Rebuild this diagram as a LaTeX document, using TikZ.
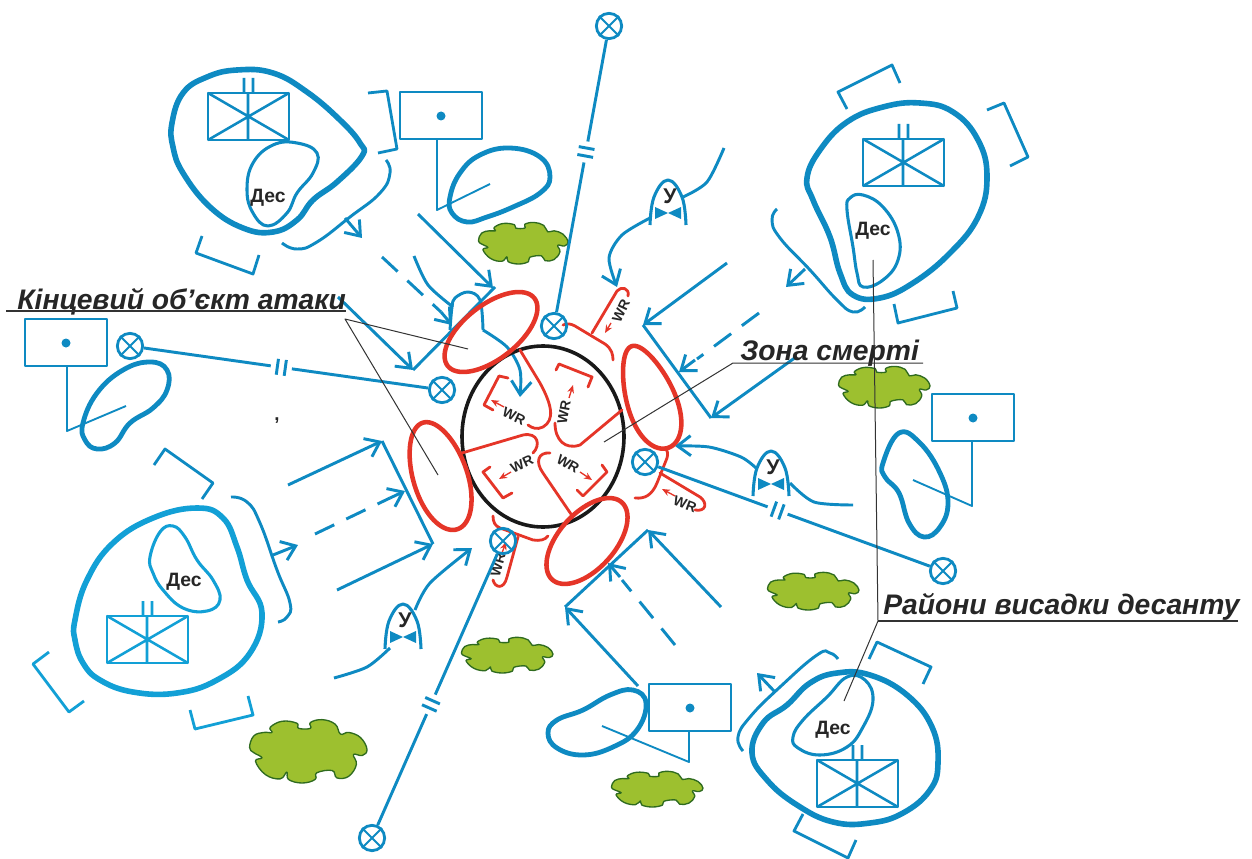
\documentclass[tikz,border=0pt]{standalone}
\usepackage{fontspec}
\setmainfont{Liberation Sans}
\usetikzlibrary{arrows.meta,calc,shapes.geometric}
\definecolor{bl}{HTML}{0E8AC2}
\definecolor{lb}{HTML}{12A0D6}
\definecolor{rd}{HTML}{E53528}
\definecolor{gr}{HTML}{9DC02F}
\definecolor{gd}{HTML}{2F6B1F}
\definecolor{lead}{HTML}{333333}
\tikzset{
 sm/.style={smooth cycle,tension=.72},
 thin blue/.style={draw=bl,line width=2.2pt,line cap=butt},
 thick blob/.style={draw=bl,line width=4.2pt},
 mid blob/.style={draw=bl,line width=3.6pt},
 inner blob/.style={draw=bl,line width=2.3pt},
 brk line/.style={draw=bl,line width=2.1pt},
 arr/.style={-{Straight Barb[length=10pt,width=15pt]}},
 red blob/.style={draw=rd,line width=3.4pt},
 red line/.style={draw=rd,line width=2.1pt,line cap=round},
 red arr/.style={draw=rd,line width=1pt,-{Stealth[length=6pt,width=5pt]}},
 leader/.style={draw=lead,line width=.75pt},
 xcirc/.style={circle,draw=bl,line width=2.1pt,minimum size=19pt,inner sep=0pt},
 wr/.style={font=\fontsize{10.5}{11}\selectfont\bfseries,text=black!85,inner sep=0pt},
 des/.style={font=\fontsize{14.5}{15}\selectfont\bfseries,text=black!85,inner sep=0pt},
 title/.style={font=\fontsize{21.2}{23}\selectfont\bfseries\itshape,text=black!85,inner sep=0pt,anchor=base west},
}
\newcommand\xnode[3]{\node[xcirc] (#1) at (#2,#3) {};
 \draw[draw=bl,line width=1.5pt] (#1.45) -- (#1.225) (#1.135) -- (#1.315);}
\newcommand\brkline[3]{%
 \coordinate (mm) at ($(#1)!#3!(#2)$);
 \coordinate (ga) at ($(mm)!8pt!(#1)$);
 \coordinate (gb) at ($(mm)!8pt!(#2)$);
 \coordinate (ta) at ($(mm)!3pt!(#1)$);
 \coordinate (tb) at ($(mm)!3pt!(#2)$);
 \draw[thin blue] (#1) -- (ga);
 \draw[thin blue] (gb) -- (#2);
 \draw[thin blue] ($(ta)!6pt!90:(#1)$) -- ($(ta)!6pt!-90:(#1)$);
 \draw[thin blue] ($(tb)!6pt!90:(#1)$) -- ($(tb)!6pt!-90:(#1)$);}
\newcommand\tankbox[3]{\begin{scope}[shift={(#1,#2)},draw=#3]
 \draw[line width=2.2pt] (0,0) rectangle (81,47);
 \draw[line width=1.9pt] (0,0) -- (81,47) (0,47) -- (81,0) (40,0) -- (40,47) (36,-15) -- (36,0) (45,-15) -- (45,0);
 \end{scope}}
\newcommand\rectdot[3]{\begin{scope}[shift={(#1,#2)}]
 \draw[draw=#3,line width=2.2pt] (0,0) rectangle (82,47);
 \fill[#3] (41,24) circle (4.5);
 \end{scope}}
\newcommand\archsym[2]{\begin{scope}[shift={(#1,#2)}]
 \draw[draw=bl,line width=2.3pt] plot[smooth,tension=.7] coordinates {(-18,12) (-14,-16) (0,-33) (14,-16) (18,12)};
 \fill[bl] (-13,-6) -- (0,0) -- (-13,6) -- cycle (13,-6) -- (0,0) -- (13,6) -- cycle;
 \node[font=\fontsize{16}{17}\selectfont\bfseries,text=black!85,inner sep=0pt] (y#1) at (2,-17) {У};
 \end{scope}}
\newcommand\cloud[4]{\begin{scope}[shift={(#1,#2)},xscale=#3,yscale=#4]
 \draw[fill=gr,draw=gd,line width=1pt] plot[smooth cycle,tension=.7] coordinates {(-.99,-.11) (-.92,-.47) (-.75,-.58) (-.61,-.58) (-.64,-.74) (-.44,-.93) (-.19,-.87) (-.16,-.71) (.04,-.71) (.04,-.89) (.24,-.98) (.46,-.84) (.55,-.53) (.69,-.58) (.89,-.42) (1,-.05) (.92,.14) (.77,.11) (.82,.42) (.69,.79) (.49,.84) (.41,.61) (.15,.68) (.12,.89) (-.10,1) (-.33,.89) (-.36,.66) (-.47,.87) (-.72,.74) (-.89,.32) (-.78,.21) (-.92,.05)};
 \end{scope}}
% tilted egg: centre x, y; angle; half length; half width; egg factor
\newcommand\redegg[6]{\draw[red blob] plot[domain=0:355,samples=72,smooth cycle]
 ({#1+cos(#3)*#4*cos(\x)-sin(#3)*#5*sin(\x)*(1+#6*cos(\x))},{#2+sin(#3)*#4*cos(\x)+cos(#3)*#5*sin(\x)*(1+#6*cos(\x))});}
\begin{document}
\begin{tikzpicture}[x=0.75pt,y=-0.75pt,line join=round]
\useasboundingbox (0,0) rectangle (1252,859);
\fill[white] (0,0) rectangle (1252,859);
% clouds
\cloud{523}{243}{45}{21}
\cloud{884}{387}{46}{21}
\cloud{813}{591}{46}{19}
\cloud{507}{655}{46}{18}
\cloud{308}{751}{59}{32}
\cloud{657}{789}{46}{18}
% top-left group
\draw[thick blob] plot[sm] coordinates {(172,123) (183,93) (207,77) (237,70) (273,73) (307,92) (340,120) (360,143) (362,156) (337,182) (313,200) (297,220) (273,232) (243,228) (210,207) (183,173) (173,147)};
\draw[inner blob] plot[sm] coordinates {(247,190) (253,163) (273,145) (297,143) (317,153) (313,173) (297,193) (287,213) (268,226) (253,213)};
\tankbox{208}{93}{bl}
\node[des] (des1) at (268,198) {Дес};
\draw[brk line] (368,93) -- (387,91) -- (397,149) -- (378,153);
\draw[brk line] (202,236) -- (196,253) -- (253,274) -- (259,255);
\rectdot{400}{92}{bl}
\draw[draw=bl,line width=1.4pt] (437,139) -- (437,210) -- (490,184);
\draw[mid blob] plot[sm] coordinates {(450,197) (460,173) (480,155) (510,148) (540,157) (550,177) (540,193) (513,207) (487,217) (467,222) (452,213)};
\draw[thin blue] plot[smooth,tension=.8] coordinates {(386,160) (390,173) (380,193) (350,217) (317,242) (297,249) (282,243)};
\draw[thin blue,arr] (345,218) -- (362,238);
\draw[thin blue,dash pattern=on 16pt off 10pt] (382,257) -- (441,312);
\draw[thin blue,arr] (441,312) -- (452,325);
\draw[thin blue,arr] (418,214) -- (493,288);
\draw[thin blue] (495,287) -- (413,370);
\draw[thin blue,arr] (338,297) -- (413,370);
\draw[thin blue] plot[smooth] coordinates {(414,256) (428,285) (453,307)};
\draw[thin blue] plot[smooth,tension=.6] coordinates {(450,330) (452,307) (455,298) (468,292) (480,300) (483,330)};
\draw[thin blue,arr] plot[smooth] coordinates {(483,330) (507,347) (520,370) (520,397)};
% left group
\rectdot{25}{319}{bl}
\draw[draw=bl,line width=1.4pt] (67,367) -- (67,431) -- (126,406);
\draw[mid blob] plot[sm] coordinates {(83,423) (97,393) (123,370) (150,362) (167,370) (167,390) (153,408) (130,423) (115,443) (97,449) (85,440)};
\node[font=\fontsize{14}{15}\selectfont\bfseries,text=black!85,inner sep=0pt] (comma) at (277,421) {,};
% lower-left group
\draw[thick blob,draw=lb] plot[sm] coordinates {(75,620) (87,580) (113,543) (153,518) (197,508) (223,518) (237,547) (247,580) (262,613) (250,653) (217,680) (177,693) (133,692) (100,680) (83,663) (75,640)};
\draw[inner blob,draw=lb] plot[sm] coordinates {(150,557) (160,532) (173,526) (185,537) (197,560) (213,580) (220,600) (207,611) (183,608) (163,590) (153,573)};
\tankbox{107}{616}{lb}
\node[des] (des2) at (184,582) {Дес};
\draw[brk line] (154,465) -- (165,449) -- (213,483) -- (202,499);
\draw[brk line,draw=lb] (49,652) -- (33,664) -- (69,712) -- (84,701);
\draw[brk line,draw=lb] (190,710) -- (195,729) -- (253,715) -- (248,696);
\draw[thin blue] plot[smooth,tension=.8] coordinates {(231,497) (247,502) (260,523) (277,570) (290,603) (287,617) (278,622)};
\draw[thin blue,arr] (273,555) -- (298,545);
\draw[thin blue,dash pattern=on 16pt off 10pt] (315,534) -- (390,498);
\draw[thin blue,arr] (390,498) -- (405,491);
\draw[thin blue,arr] (288,485) -- (382,441);
\draw[thin blue,arr] (337,590) -- (433,544);
\draw[thin blue] (382,441) -- (433,544);
\draw[thin blue] plot[smooth] coordinates {(334,678) (367,667) (390,648)};
\draw[thin blue,arr] plot[smooth] coordinates {(415,610) (430,583) (472,548)};
\archsym{403}{637}
% top-right group
\draw[thick blob] plot[sm] coordinates {(807,178) (820,150) (847,122) (883,107) (920,103) (953,112) (978,140) (987,177) (978,217) (950,253) (913,283) (880,298) (853,295) (840,273) (830,237) (813,200)};
\draw[inner blob] plot[sm] coordinates {(847,210) (850,198) (863,195) (883,207) (898,233) (898,260) (883,280) (863,287) (857,273) (853,247)};
\tankbox{863}{139}{bl}
\node[des] (des3) at (873,231) {Дес};
\draw[brk line] (847,109) -- (838,92) -- (892,65) -- (900,83);
\draw[brk line] (987,110) -- (1004,103) -- (1028,157) -- (1010,166);
\draw[brk line] (894,304) -- (898,323) -- (957,308) -- (953,291);
\draw[thin blue] plot[smooth,tension=.8] coordinates {(777,209) (772,220) (780,238) (810,270) (837,300) (853,312) (865,307)};
\draw[thin blue,arr] (805,269) -- (786,287);
\draw[thin blue,arr] (727,263) -- (643,325);
\draw[thin blue] (643,325) -- (711,418);
\draw[thin blue,dash pattern=on 16pt off 10pt] (759,313) -- (697,359);
\draw[thin blue,arr] (695,360) -- (679,372);
\draw[thin blue,arr] (796,357) -- (711,418);
\archsym{668}{213}
\draw[thin blue] plot[smooth] coordinates {(683,197) (707,182) (724,148)};
\draw[thin blue,arr] plot[smooth] coordinates {(650,218) (622,235) (609,258) (617,287)};
% right group
\rectdot{932}{394}{bl}
\draw[draw=bl,line width=1.4pt] (972,442) -- (972,506) -- (913,480);
\draw[mid blob] plot[sm] coordinates {(883,463) (899,433) (920,443) (940,473) (948,503) (940,527) (924,537) (909,523) (899,493) (885,477)};
\archsym{771}{484}
\draw[thin blue,arr] plot[smooth] coordinates {(756,468) (741,457) (709,447) (675,446)};
\draw[thin blue] plot[smooth] coordinates {(790,483) (814,502) (853,505)};
% bottom-right group
\rectdot{649}{684}{bl}
\draw[draw=bl,line width=1.4pt] (689,732) -- (689,762) -- (602,726);
\draw[mid blob] plot[sm] coordinates {(548,733) (557,720) (583,710) (610,695) (633,690) (646,703) (637,730) (613,747) (583,755) (557,748)};
\draw[thick blob] plot[sm] coordinates {(752,753) (763,723) (787,705) (810,683) (837,673) (870,675) (907,695) (932,727) (938,763) (930,790) (903,813) (870,823) (833,822) (797,805) (767,780)};
\draw[inner blob] plot[sm] coordinates {(793,737) (803,720) (827,697) (847,677) (865,680) (873,700) (863,727) (847,747) (820,755) (798,748)};
\tankbox{817}{760}{bl}
\node[des] (des4) at (833,730) {Дес};
\draw[thin blue] plot[smooth,tension=.8] coordinates {(743,751) (738,737) (750,717) (780,687) (817,655) (830,653) (838,659)};
\draw[thin blue,arr] (775,692) -- (757,673);
\draw[brk line] (869,659) -- (877,642) -- (931,667) -- (923,684);
\draw[brk line] (803,814) -- (794,831) -- (848,858) -- (856,840);
\draw[thin blue,arr] (721,607) -- (648,530);
\draw[thin blue] (648,530) -- (565,607);
\draw[thin blue,arr] (638,686) -- (565,607);
\draw[thin blue,dash pattern=on 16pt off 10pt] (675,645) -- (622,580);
\draw[thin blue,arr] (620,577) -- (608,563);
% red zone
\draw[draw=black!90,line width=2.7pt] (543,436.5) ellipse [x radius=81,y radius=90.5];
\redegg{491}{332}{-38}{55}{27}{0}
\redegg{650}{397}{70}{54}{24}{.2}
\redegg{440}{476}{72}{56}{27}{.05}
\redegg{587}{541}{-48}{52}{28}{0}
\draw[red line] (520,350) -- (540,383) .. controls (552,405) and (555,420) .. (543,427) .. controls (537,430) and (532,428) .. (528,425);
\draw[red line] (462,453) -- (523,435) .. controls (538,432) and (541,445) .. (533,453);
\draw[red line] (622,410) -- (580,445) .. controls (565,450) and (555,440) .. (555,423);
\draw[red line] (573,517) -- (543,473) .. controls (535,462) and (538,452) .. (550,453);
\draw[red line] (508,378) -- (499,376) -- (484,405) -- (493,410);
\draw[red line] (556,370) -- (559,364) -- (592,377) -- (588,387);
\draw[red line] (490,467) -- (483,472) -- (503,498) -- (512,493);
\draw[red line] (602,465) -- (607,472) -- (583,496) -- (577,490);
\node[wr,rotate=-25] (w1) at (514,416) {WR};
\node[wr,rotate=80] (w2) at (564,412) {WR};
\node[wr,rotate=25] (w3) at (522,464) {WR};
\node[wr,rotate=-30] (w4) at (568,464) {WR};
\draw[red arr] (504,407) -- (491,400);
\draw[red arr] (569,398) -- (573,385);
\draw[red arr] (511,472) -- (499,479);
\draw[red arr] (580,472) -- (592,480);
% outer hairpins
\draw[red line] (563,325) .. controls (568,323) and (571,324) .. (575,326) -- (605,344) .. controls (612,349) and (613,355) .. (613,360);
\draw[red line] (592,333) -- (617,291) .. controls (621,286) and (630,288) .. (628,296);
\node[wr,rotate=65] (w5) at (621,311) {WR};
\draw[red arr] (611,323) -- (605,333);
\draw[red line] (665,448) .. controls (668,451) and (668,454) .. (667,458) -- (657,483) .. controls (652,495) and (645,499) .. (635,498);
\draw[red line] (660,473) -- (700,497) .. controls (708,503) and (706,512) .. (695,510);
\node[wr,rotate=-20] (w6) at (685,504) {WR};
\draw[red arr] (675,496) -- (662,489);
\draw[red line] (493,516) .. controls (493,522) and (495,526) .. (500,528) -- (533,540) .. controls (540,541) and (545,540) .. (548,536);
\draw[red line] (518,537) -- (507,577) .. controls (504,590) and (495,588) .. (493,580);
\node[wr,rotate=75] (w7) at (498,565) {WR};
\draw[red arr] (502,553) -- (506,542);
% crossed circles and long broken lines
\xnode{xa}{609}{26}
\xnode{xb}{554}{326}
\xnode{xc}{130}{346}
\xnode{xd}{442}{390}
\xnode{xe}{645}{462}
\xnode{xf}{943}{571}
\xnode{xg}{372}{838}
\xnode{xh}{503}{541}
\brkline{xa}{xb}{.42}
\brkline{xc}{xd}{.485}
\brkline{xe}{xf}{.445}
\brkline{xg}{xh}{.45}
% titles and leaders
\node[title] (t1) at (17,309) {Кінцевий об’єкт атаки};
\coordinate (u1a) at (6,311);
\coordinate (u1b) at (346,311);
\draw[leader,line width=1.1pt] (u1a) -- (u1b);
\coordinate (l1) at (345,319);
\coordinate (l1a) at (468,349);
\coordinate (l1b) at (438,475);
\draw[leader] (l1a) -- (l1) -- (l1b);
\node[title] (t2) at (740,360) {Зона смерті};
\coordinate (u2a) at (733,363);
\coordinate (u2b) at (923,363);
\coordinate (l2) at (604,442);
\draw[leader] (u2b) -- (u2a) -- (l2);
\node[title] (t3) at (883,614) {Райони висадки десанту};
\coordinate (u3a) at (878,621);
\coordinate (u3b) at (1238,621);
\coordinate (l3a) at (873,260);
\coordinate (l3b) at (844,701);
\draw[leader,line width=1.1pt] (u3b) -- (u3a);
\draw[leader] (l3a) -- (u3a) -- (l3b);
\end{tikzpicture}
\end{document}
